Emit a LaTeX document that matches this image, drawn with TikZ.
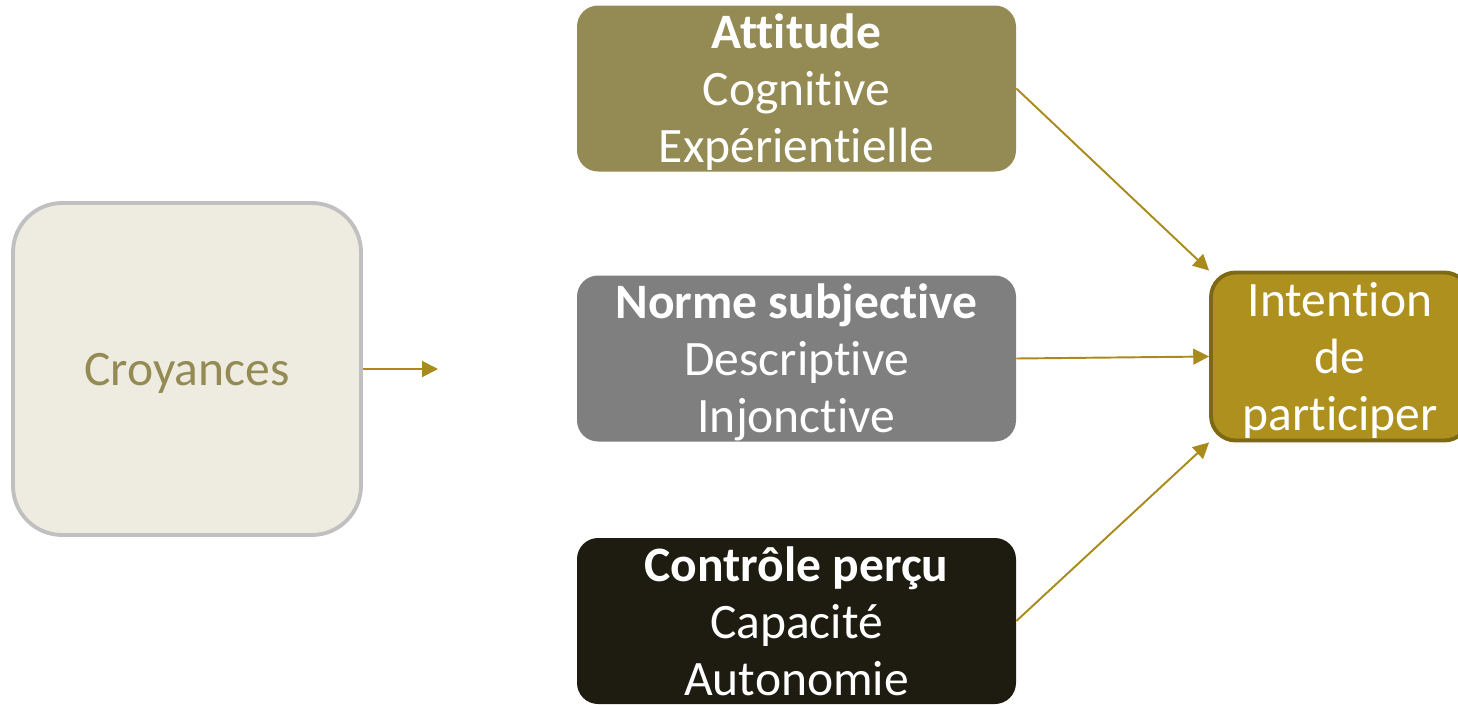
\documentclass[tikz,border=0pt]{standalone}
\usepackage{fontspec}
\setmainfont{Carlito}[Ligatures=NoCommon]
\usetikzlibrary{positioning, arrows.meta}

\definecolor{olivebox}{HTML}{948A54}
\definecolor{greybox}{HTML}{7F7F7F}
\definecolor{darkbox}{HTML}{1E1C11}
\definecolor{goldbox}{HTML}{AE901F}
\definecolor{goldline}{HTML}{7D6814}
\definecolor{arrowgold}{HTML}{A88B1C}
\definecolor{paleback}{HTML}{EEEBE1}
\definecolor{paleline}{HTML}{C0C0C0}

\begin{document}
\begin{tikzpicture}[x=0.02cm, y=-0.02cm, >={Triangle[length=9pt, width=9pt]},
    factor/.style={rectangle, rounded corners=12pt, align=center, text=white, minimum width=439*0.02cm, minimum height=166*0.02cm, inner sep=0pt, text depth=0pt, font=\fontsize{28.2}{32.4}\selectfont},
    link/.style={->, draw=arrowgold, fill=arrowgold, line width=1.1pt}]

    \useasboundingbox (0,0) rectangle (1458,704);

    % beliefs on the left
    \node[rectangle, rounded corners=28pt, fill=paleback, draw=paleline, line width=2.2pt, minimum width=348*0.02cm, minimum height=332*0.02cm, text=olivebox, text depth=0pt, font=\fontsize{28.2}{32.4}\selectfont] (croyances) at (187,369) {Croyances};
    \coordinate (croyancesEnd) at (438,369);
    \draw[link] (croyances.east) -- (croyancesEnd);

    % the three factors
    \node[factor, fill=olivebox] (attitude) at (796.5,88.5) {\textbf{Attitude}\\Cognitive\\Expérientielle};
    \node[factor, fill=greybox] (norme) at (796.5,358.5) {\textbf{Norme subjective}\\Descriptive\\Injonctive};
    \node[factor, fill=darkbox] (controle) at (796.5,621) {\textbf{Contrôle perçu}\\Capacité\\Autonomie};

    % intention
    \node[rectangle, rounded corners=14pt, fill=goldbox, draw=goldline, line width=2.2pt, align=center, text=white, minimum width=258*0.02cm, minimum height=168*0.02cm, inner sep=0pt, text depth=0pt, font=\fontsize{28.2}{32.4}\selectfont] (intention) at (1340,356.5) {Intention\\de\\participer};

    % arrows to intention
    \draw[link] (attitude.east) -- (intention.north west);
    \draw[link] (norme.east) -- (intention.west);
    \draw[link] (controle.east) -- (intention.south west);

\end{tikzpicture}
\end{document}
